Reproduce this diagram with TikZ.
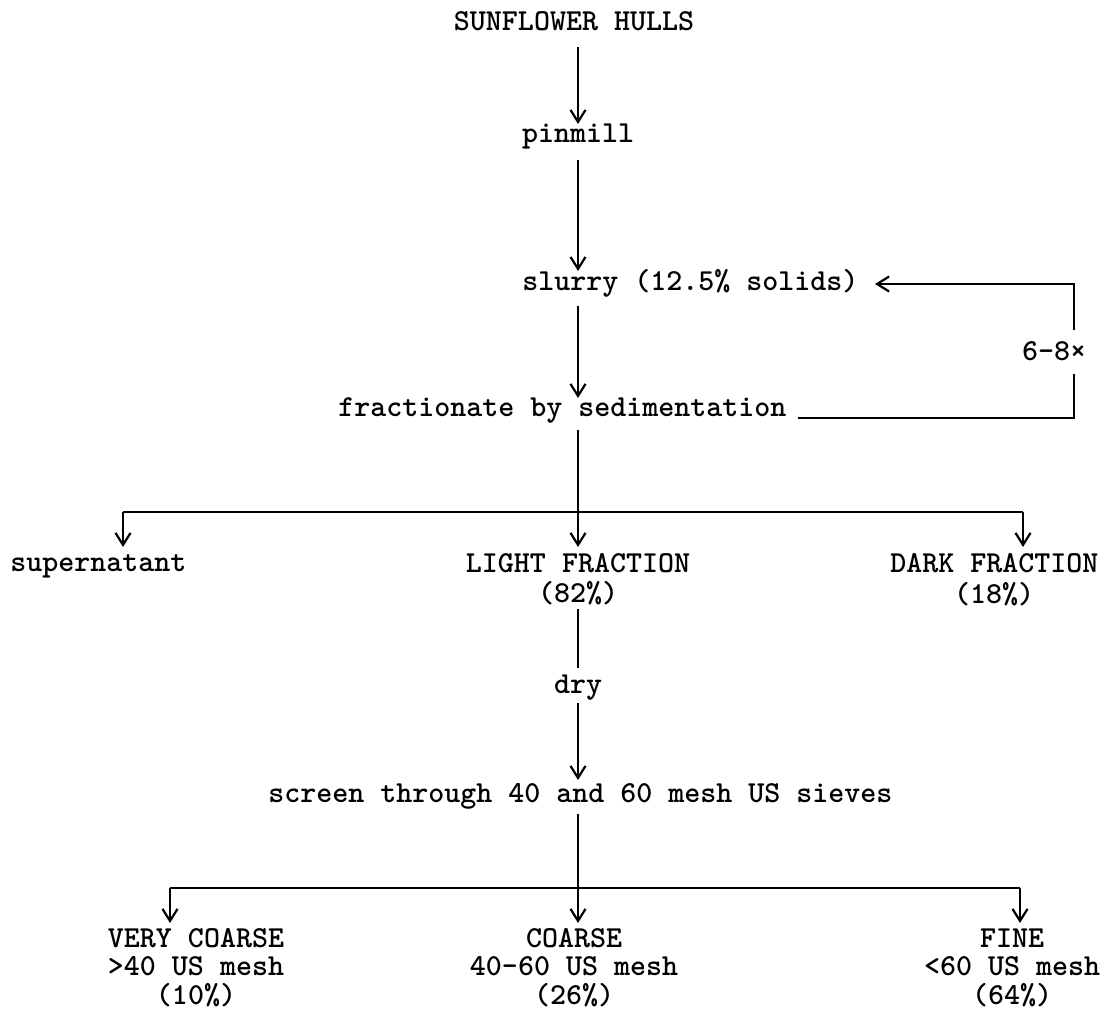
\documentclass[tikz,border=0pt]{standalone}
\usetikzlibrary{arrows.meta}
\begin{document}
\begin{tikzpicture}[x=0.5pt,y=-0.5pt,
  txt/.style={inner sep=0pt, font=\fontsize{15.24}{18}\selectfont\ttfamily\bfseries, anchor=base},
  ln/.style={line width=1.2pt},
  arr/.style={ln, -{Straight Barb[length=6pt,width=7.5pt,line width=1.1pt]}}
]
\useasboundingbox (0,0) rectangle (1108,1021);
% texts
\node[txt] (hulls) at (574,31) {SUNFLOWER HULLS};
\node[txt] (pin) at (578,143) {pinmill};
\node[txt, anchor=base west] (slurry) at (522,291) {slurry (12.5\% solids)};
\node[txt, anchor=base west] (frac) at (338,416) {fractionate by sedimentation};
\node[txt] (times) at (1054,361) {6-8×};
\node[txt, anchor=base west] (sup) at (10,571) {supernatant};
\node[txt] (light) at (578,572) {LIGHT FRACTION};
\node[txt] (light2) at (578,602) {(82\%)};
\node[txt, anchor=base west] (dark) at (890,572) {DARK FRACTION};
\node[txt] (dark2) at (994,603) {(18\%)};
\node[txt] (dry) at (578,693) {dry};
\node[txt, anchor=base west] (screen) at (268,802) {screen through 40 and 60 mesh US sieves};
\node[txt] (vc1) at (196,947) {VERY COARSE};
\node[txt] (vc2) at (196,975) {>40 US mesh};
\node[txt] (vc3) at (196,1004) {(10\%)};
\node[txt] (co1) at (574,947) {COARSE};
\node[txt] (co2) at (574,975) {40-60 US mesh};
\node[txt] (co3) at (574,1004) {(26\%)};
\node[txt] (fi1) at (1012,947) {FINE};
\node[txt] (fi2) at (1012,975) {<60 US mesh};
\node[txt] (fi3) at (1012,1004) {(64\%)};
% coordinates
\coordinate (a1s) at (578,47);   \coordinate (a1e) at (578,124);
\coordinate (a2s) at (578,160);  \coordinate (a2e) at (578,271);
\coordinate (a3s) at (578,306);  \coordinate (a3e) at (578,398);
\coordinate (ul) at (798,418);   \coordinate (ur) at (1074,418);
\coordinate (gb) at (1074,374);  \coordinate (gt) at (1074,330);
\coordinate (rt) at (1074,284);  \coordinate (fb) at (875,284);
\coordinate (f0) at (578,430);
\coordinate (h1) at (578,512); \coordinate (h1l) at (123,512); \coordinate (h1r) at (1023,512);
\coordinate (tS) at (123,547); \coordinate (tL) at (578,547); \coordinate (tD) at (1023,547);
\coordinate (d0) at (578,609); \coordinate (d1) at (578,668);
\coordinate (s0) at (578,703); \coordinate (s1) at (578,780);
\coordinate (c0) at (578,814);
\coordinate (h2) at (578,888); \coordinate (h2l) at (170,888); \coordinate (h2r) at (1020,888);
\coordinate (tV) at (170,923); \coordinate (tC) at (578,923); \coordinate (tF) at (1020,923);
% connectors
\draw[arr] (a1s) -- (a1e);
\draw[arr] (a2s) -- (a2e);
\draw[arr] (a3s) -- (a3e);
\draw[ln] (ul) -- (ur) -- (gb);
\draw[arr] (gt) -- (rt) -- (fb);
\draw[arr] (f0) -- (tL);
\draw[ln] (h1l) -- (h1r);
\draw[arr] (h1l) -- (tS);
\draw[arr] (h1r) -- (tD);
\draw[ln] (d0) -- (d1);
\draw[arr] (s0) -- (s1);
\draw[arr] (c0) -- (tC);
\draw[ln] (h2l) -- (h2r);
\draw[arr] (h2l) -- (tV);
\draw[arr] (h2r) -- (tF);
\end{tikzpicture}
\end{document}
